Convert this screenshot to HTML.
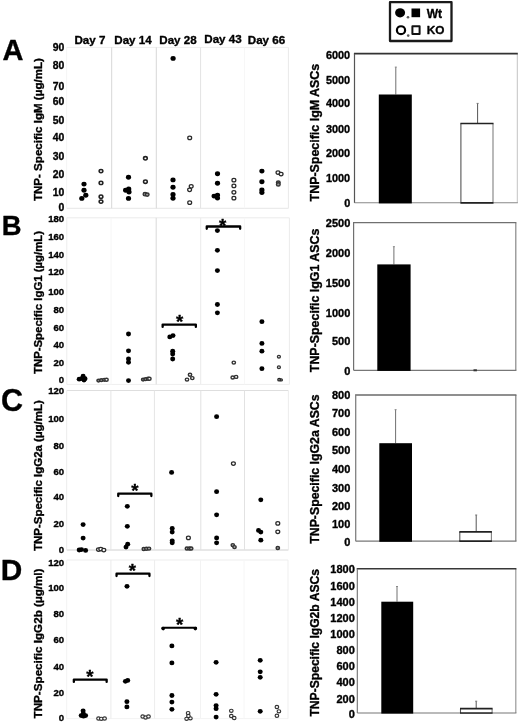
<!DOCTYPE html>
<html><head><meta charset="utf-8"><title>Figure</title>
<style>
html,body{margin:0;padding:0;background:#fff;}
body{width:520px;height:723px;overflow:hidden;font-family:"Liberation Sans",sans-serif;}
svg{display:block;filter:blur(0.45px);}
</style></head><body>
<svg width="520" height="723" viewBox="0 0 520 723" font-family="Liberation Sans, sans-serif" font-weight="bold" stroke-linejoin="round" fill="#000">
<rect width="520" height="723" fill="#fff"/>
<text x="2.6" y="59.9" font-size="29" text-anchor="start" stroke="#000" stroke-width="0.35" >A</text>
<text x="1.7" y="234.7" font-size="27.4" text-anchor="start" stroke="#000" stroke-width="0.35" >B</text>
<text x="1.0" y="410.5" font-size="30.5" text-anchor="start" stroke="#000" stroke-width="0.35" >C</text>
<text x="0.8" y="580.1" font-size="29.8" text-anchor="start" stroke="#000" stroke-width="0.35" >D</text>
<line x1="66.6" y1="47.4" x2="288.4" y2="47.4" stroke="#efefef" stroke-width="1"/>
<line x1="66.6" y1="208.3" x2="288.4" y2="208.3" stroke="#e6e6e6" stroke-width="1"/>
<line x1="66.6" y1="47.4" x2="66.6" y2="208.3" stroke="#f5f5f5" stroke-width="1"/>
<line x1="111.7" y1="47.4" x2="111.7" y2="208.3" stroke="#d7d7d7" stroke-width="1"/>
<line x1="156.3" y1="47.4" x2="156.3" y2="208.3" stroke="#d7d7d7" stroke-width="1"/>
<line x1="200.6" y1="47.4" x2="200.6" y2="208.3" stroke="#e3e3e3" stroke-width="1"/>
<line x1="244.4" y1="47.4" x2="244.4" y2="208.3" stroke="#f7f7f7" stroke-width="1"/>
<line x1="288.4" y1="47.4" x2="288.4" y2="208.3" stroke="#e9e9e9" stroke-width="1"/>
<line x1="66.8" y1="217.8" x2="289.4" y2="217.8" stroke="#ebebeb" stroke-width="1"/>
<line x1="66.8" y1="384.4" x2="289.4" y2="384.4" stroke="#efefef" stroke-width="1"/>
<line x1="66.8" y1="217.8" x2="66.8" y2="384.4" stroke="#ededed" stroke-width="1"/>
<line x1="111" y1="217.8" x2="111" y2="384.4" stroke="#f6f6f6" stroke-width="1"/>
<line x1="156.2" y1="217.8" x2="156.2" y2="384.4" stroke="#d9d9d9" stroke-width="1"/>
<line x1="200.7" y1="217.8" x2="200.7" y2="384.4" stroke="#ebebeb" stroke-width="1"/>
<line x1="244.6" y1="217.8" x2="244.6" y2="384.4" stroke="#f7f7f7" stroke-width="1"/>
<line x1="289.4" y1="217.8" x2="289.4" y2="384.4" stroke="#ebebeb" stroke-width="1"/>
<line x1="66.7" y1="390.5" x2="288.4" y2="390.5" stroke="#dedede" stroke-width="1"/>
<line x1="66.7" y1="550" x2="288.4" y2="550" stroke="#d0d0d0" stroke-width="1"/>
<line x1="66.7" y1="390.5" x2="66.7" y2="550" stroke="#ececec" stroke-width="1"/>
<line x1="110.9" y1="390.5" x2="110.9" y2="550" stroke="#e5e5e5" stroke-width="1"/>
<line x1="154.4" y1="390.5" x2="154.4" y2="550" stroke="#e5e5e5" stroke-width="1"/>
<line x1="200.8" y1="390.5" x2="200.8" y2="550" stroke="#e2e2e2" stroke-width="1"/>
<line x1="244.5" y1="390.5" x2="244.5" y2="550" stroke="#e2e2e2" stroke-width="1"/>
<line x1="288.4" y1="390.5" x2="288.4" y2="550" stroke="#ececec" stroke-width="1"/>
<line x1="66.7" y1="560" x2="288" y2="560" stroke="#ededed" stroke-width="1"/>
<line x1="66.7" y1="718.6" x2="288" y2="718.6" stroke="#f3f3f3" stroke-width="1"/>
<line x1="66.7" y1="560" x2="66.7" y2="718.6" stroke="#f3f3f3" stroke-width="1"/>
<line x1="110.9" y1="560" x2="110.9" y2="718.6" stroke="#ebebeb" stroke-width="1"/>
<line x1="154.6" y1="560" x2="154.6" y2="718.6" stroke="#ededed" stroke-width="1"/>
<line x1="200.5" y1="560" x2="200.5" y2="718.6" stroke="#f3f3f3" stroke-width="1"/>
<line x1="244" y1="560" x2="244" y2="718.6" stroke="#f6f6f6" stroke-width="1"/>
<line x1="288" y1="560" x2="288" y2="718.6" stroke="#efefef" stroke-width="1"/>
<text x="74.5" y="43.8" font-size="11.6" text-anchor="start" stroke="#000" stroke-width="0.35" >Day 7</text>
<text x="114.3" y="43.8" font-size="11.6" text-anchor="start" stroke="#000" stroke-width="0.35" >Day 14</text>
<text x="159.3" y="43.8" font-size="11.6" text-anchor="start" stroke="#000" stroke-width="0.35" >Day 28</text>
<text x="204.3" y="42.6" font-size="11.6" text-anchor="start" stroke="#000" stroke-width="0.35" >Day 43</text>
<text x="247.8" y="44.3" font-size="11.6" text-anchor="start" stroke="#000" stroke-width="0.35" >Day 66</text>
<text x="64.2" y="51.344" font-size="10.4" text-anchor="end" stroke="#000" stroke-width="0.35" >90</text>
<text x="64.2" y="68.944" font-size="10.4" text-anchor="end" stroke="#000" stroke-width="0.35" >80</text>
<text x="64.2" y="89.744" font-size="10.4" text-anchor="end" stroke="#000" stroke-width="0.35" >70</text>
<text x="64.2" y="105.244" font-size="10.4" text-anchor="end" stroke="#000" stroke-width="0.35" >60</text>
<text x="64.2" y="123.944" font-size="10.4" text-anchor="end" stroke="#000" stroke-width="0.35" >50</text>
<text x="64.2" y="140.744" font-size="10.4" text-anchor="end" stroke="#000" stroke-width="0.35" >40</text>
<text x="64.2" y="159.544" font-size="10.4" text-anchor="end" stroke="#000" stroke-width="0.35" >30</text>
<text x="64.2" y="177.544" font-size="10.4" text-anchor="end" stroke="#000" stroke-width="0.35" >20</text>
<text x="64.2" y="195.544" font-size="10.4" text-anchor="end" stroke="#000" stroke-width="0.35" >10</text>
<text x="64.2" y="211.344" font-size="10.4" text-anchor="end" stroke="#000" stroke-width="0.35" >0</text>
<text x="64.2" y="222.356" font-size="9.6" text-anchor="end" stroke="#000" stroke-width="0.35" >180</text>
<text x="64.2" y="239.856" font-size="9.6" text-anchor="end" stroke="#000" stroke-width="0.35" >160</text>
<text x="64.2" y="257.656" font-size="9.6" text-anchor="end" stroke="#000" stroke-width="0.35" >140</text>
<text x="64.2" y="275.456" font-size="9.6" text-anchor="end" stroke="#000" stroke-width="0.35" >120</text>
<text x="64.2" y="295.25600000000003" font-size="9.6" text-anchor="end" stroke="#000" stroke-width="0.35" >100</text>
<text x="64.2" y="313.05600000000004" font-size="9.6" text-anchor="end" stroke="#000" stroke-width="0.35" >80</text>
<text x="64.2" y="330.656" font-size="9.6" text-anchor="end" stroke="#000" stroke-width="0.35" >60</text>
<text x="64.2" y="348.456" font-size="9.6" text-anchor="end" stroke="#000" stroke-width="0.35" >40</text>
<text x="64.2" y="365.956" font-size="9.6" text-anchor="end" stroke="#000" stroke-width="0.35" >20</text>
<text x="64.2" y="383.156" font-size="9.6" text-anchor="end" stroke="#000" stroke-width="0.35" >0</text>
<text x="64.2" y="393.55600000000004" font-size="9.6" text-anchor="end" stroke="#000" stroke-width="0.35" >120</text>
<text x="64.2" y="422.456" font-size="9.6" text-anchor="end" stroke="#000" stroke-width="0.35" >100</text>
<text x="64.2" y="448.656" font-size="9.6" text-anchor="end" stroke="#000" stroke-width="0.35" >80</text>
<text x="64.2" y="474.856" font-size="9.6" text-anchor="end" stroke="#000" stroke-width="0.35" >60</text>
<text x="64.2" y="500.456" font-size="9.6" text-anchor="end" stroke="#000" stroke-width="0.35" >40</text>
<text x="64.2" y="527.456" font-size="9.6" text-anchor="end" stroke="#000" stroke-width="0.35" >20</text>
<text x="64.2" y="553.256" font-size="9.6" text-anchor="end" stroke="#000" stroke-width="0.35" >0</text>
<text x="64.2" y="565.756" font-size="9.6" text-anchor="end" stroke="#000" stroke-width="0.35" >120</text>
<text x="64.2" y="591.256" font-size="9.6" text-anchor="end" stroke="#000" stroke-width="0.35" >100</text>
<text x="64.2" y="617.1560000000001" font-size="9.6" text-anchor="end" stroke="#000" stroke-width="0.35" >80</text>
<text x="64.2" y="643.256" font-size="9.6" text-anchor="end" stroke="#000" stroke-width="0.35" >60</text>
<text x="64.2" y="669.756" font-size="9.6" text-anchor="end" stroke="#000" stroke-width="0.35" >40</text>
<text x="64.2" y="695.6560000000001" font-size="9.6" text-anchor="end" stroke="#000" stroke-width="0.35" >20</text>
<text x="64.2" y="721.456" font-size="9.6" text-anchor="end" stroke="#000" stroke-width="0.35" >0</text>
<text transform="translate(42.4,129.6) rotate(-90)" font-size="11.57" text-anchor="middle" stroke="#000" stroke-width="0.35" textLength="143" lengthAdjust="spacingAndGlyphs">TNP- Specific IgM (µg/mL)</text>
<text transform="translate(42.4,302.5) rotate(-90)" font-size="11.37" text-anchor="middle" stroke="#000" stroke-width="0.35" textLength="143" lengthAdjust="spacingAndGlyphs">TNP-Specific IgG1 (µg/mL)</text>
<text transform="translate(42.4,475.6) rotate(-90)" font-size="11.48" text-anchor="middle" stroke="#000" stroke-width="0.35" textLength="150.8" lengthAdjust="spacingAndGlyphs">TNP-Specific IgG2a (µg/mL)</text>
<text transform="translate(42.1,643.5) rotate(-90)" font-size="11.67" text-anchor="middle" stroke="#000" stroke-width="0.35" textLength="150" lengthAdjust="spacingAndGlyphs">TNP-Specific IgG2b (µg/ml)</text>
<ellipse cx="84" cy="184.1" rx="2.6" ry="2.45" fill="#000"/>
<ellipse cx="84" cy="190.3" rx="2.6" ry="2.45" fill="#000"/>
<ellipse cx="85.8" cy="195.3" rx="2.6" ry="2.45" fill="#000"/>
<ellipse cx="81.8" cy="198.4" rx="2.6" ry="2.45" fill="#000"/>
<ellipse cx="128.5" cy="177.3" rx="2.6" ry="2.45" fill="#000"/>
<ellipse cx="125.6" cy="190.3" rx="2.6" ry="2.45" fill="#000"/>
<ellipse cx="128.7" cy="188.9" rx="2.6" ry="2.45" fill="#000"/>
<ellipse cx="129" cy="192" rx="2.6" ry="2.45" fill="#000"/>
<ellipse cx="128.5" cy="198.4" rx="2.6" ry="2.45" fill="#000"/>
<ellipse cx="173.1" cy="58.4" rx="2.6" ry="2.45" fill="#000"/>
<ellipse cx="173" cy="179.9" rx="2.6" ry="2.45" fill="#000"/>
<ellipse cx="173" cy="187.3" rx="2.6" ry="2.45" fill="#000"/>
<ellipse cx="173" cy="194.4" rx="2.6" ry="2.45" fill="#000"/>
<ellipse cx="173" cy="198.2" rx="2.6" ry="2.45" fill="#000"/>
<ellipse cx="217.5" cy="173.7" rx="2.6" ry="2.45" fill="#000"/>
<ellipse cx="217.5" cy="183.3" rx="2.6" ry="2.45" fill="#000"/>
<ellipse cx="214.1" cy="196.1" rx="2.6" ry="2.45" fill="#000"/>
<ellipse cx="217.5" cy="195.1" rx="2.6" ry="2.45" fill="#000"/>
<ellipse cx="217.5" cy="198.1" rx="2.6" ry="2.45" fill="#000"/>
<ellipse cx="261.9" cy="171.1" rx="2.6" ry="2.45" fill="#000"/>
<ellipse cx="261.9" cy="181.8" rx="2.6" ry="2.45" fill="#000"/>
<ellipse cx="261.9" cy="189.9" rx="2.6" ry="2.45" fill="#000"/>
<ellipse cx="261.9" cy="192.6" rx="2.6" ry="2.45" fill="#000"/>
<ellipse cx="101" cy="171.1" rx="1.8499999999999999" ry="1.65" fill="#fff" stroke="#222" stroke-width="1.6"/>
<ellipse cx="101" cy="182.9" rx="1.8499999999999999" ry="1.65" fill="#fff" stroke="#222" stroke-width="1.6"/>
<ellipse cx="101" cy="196.7" rx="1.8499999999999999" ry="1.65" fill="#fff" stroke="#222" stroke-width="1.6"/>
<ellipse cx="101" cy="201.6" rx="1.8499999999999999" ry="1.65" fill="#fff" stroke="#222" stroke-width="1.6"/>
<ellipse cx="145.4" cy="158.3" rx="1.8499999999999999" ry="1.65" fill="#fff" stroke="#222" stroke-width="1.6"/>
<ellipse cx="145.4" cy="181.7" rx="1.8499999999999999" ry="1.65" fill="#fff" stroke="#222" stroke-width="1.6"/>
<ellipse cx="189.7" cy="137.9" rx="1.95" ry="1.75" fill="#fff" stroke="#2a2a2a" stroke-width="1.25"/>
<ellipse cx="191.2" cy="186.3" rx="1.95" ry="1.75" fill="#fff" stroke="#2a2a2a" stroke-width="1.25"/>
<ellipse cx="189.6" cy="189.8" rx="1.95" ry="1.75" fill="#fff" stroke="#2a2a2a" stroke-width="1.25"/>
<ellipse cx="189.7" cy="202.7" rx="1.95" ry="1.75" fill="#fff" stroke="#2a2a2a" stroke-width="1.25"/>
<ellipse cx="233.9" cy="180.2" rx="1.95" ry="1.75" fill="#fff" stroke="#2a2a2a" stroke-width="1.25"/>
<ellipse cx="233.9" cy="185.9" rx="1.95" ry="1.75" fill="#fff" stroke="#2a2a2a" stroke-width="1.25"/>
<ellipse cx="233.9" cy="192.3" rx="1.95" ry="1.75" fill="#fff" stroke="#2a2a2a" stroke-width="1.25"/>
<ellipse cx="233.9" cy="198.2" rx="1.95" ry="1.75" fill="#fff" stroke="#2a2a2a" stroke-width="1.25"/>
<ellipse cx="278" cy="172.6" rx="1.95" ry="1.75" fill="#fff" stroke="#2a2a2a" stroke-width="1.25"/>
<ellipse cx="281.1" cy="174" rx="1.95" ry="1.75" fill="#fff" stroke="#2a2a2a" stroke-width="1.25"/>
<ellipse cx="145" cy="194.2" rx="1.8499999999999999" ry="1.65" fill="#999" stroke="#333" stroke-width="1.4"/>
<ellipse cx="147.2" cy="194.6" rx="1.8499999999999999" ry="1.65" fill="#999" stroke="#333" stroke-width="1.4"/>
<ellipse cx="278.3" cy="182.6" rx="1.8499999999999999" ry="1.65" fill="#999" stroke="#333" stroke-width="1.4"/>
<ellipse cx="278.3" cy="184.4" rx="1.8499999999999999" ry="1.65" fill="#999" stroke="#333" stroke-width="1.4"/>
<ellipse cx="79.2" cy="379.2" rx="2.5" ry="2.4" fill="#000"/>
<ellipse cx="82.1" cy="378.7" rx="2.5" ry="2.4" fill="#000"/>
<ellipse cx="85" cy="378.7" rx="2.5" ry="2.4" fill="#000"/>
<ellipse cx="83.1" cy="376.2" rx="2.5" ry="2.4" fill="#000"/>
<ellipse cx="84" cy="380" rx="2.5" ry="2.4" fill="#000"/>
<ellipse cx="128.5" cy="334" rx="2.5" ry="2.4" fill="#000"/>
<ellipse cx="128.5" cy="350.8" rx="2.5" ry="2.4" fill="#000"/>
<ellipse cx="128.5" cy="359" rx="2.5" ry="2.4" fill="#000"/>
<ellipse cx="128.5" cy="362.3" rx="2.5" ry="2.4" fill="#000"/>
<ellipse cx="128.5" cy="380.6" rx="2.5" ry="2.4" fill="#000"/>
<ellipse cx="169.8" cy="336.9" rx="2.5" ry="2.4" fill="#000"/>
<ellipse cx="173" cy="335.6" rx="2.5" ry="2.4" fill="#000"/>
<ellipse cx="172.7" cy="351.2" rx="2.5" ry="2.4" fill="#000"/>
<ellipse cx="172.7" cy="354" rx="2.5" ry="2.4" fill="#000"/>
<ellipse cx="172.7" cy="359" rx="2.5" ry="2.4" fill="#000"/>
<ellipse cx="217.4" cy="230.6" rx="2.5" ry="2.4" fill="#000"/>
<ellipse cx="217.4" cy="250.3" rx="2.5" ry="2.4" fill="#000"/>
<ellipse cx="217.4" cy="270.6" rx="2.5" ry="2.4" fill="#000"/>
<ellipse cx="217.4" cy="304.5" rx="2.5" ry="2.4" fill="#000"/>
<ellipse cx="217.4" cy="312.8" rx="2.5" ry="2.4" fill="#000"/>
<ellipse cx="261.9" cy="321.7" rx="2.5" ry="2.4" fill="#000"/>
<ellipse cx="261.9" cy="343.4" rx="2.5" ry="2.4" fill="#000"/>
<ellipse cx="261.9" cy="351.2" rx="2.5" ry="2.4" fill="#000"/>
<ellipse cx="261.9" cy="368.7" rx="2.5" ry="2.4" fill="#000"/>
<ellipse cx="98.5" cy="380.6" rx="1.5999999999999999" ry="1.4" fill="#8a8a8a" stroke="#333" stroke-width="1.4"/>
<ellipse cx="101.3" cy="380.2" rx="1.5999999999999999" ry="1.4" fill="#8a8a8a" stroke="#333" stroke-width="1.4"/>
<ellipse cx="104.2" cy="379.8" rx="1.5999999999999999" ry="1.4" fill="#8a8a8a" stroke="#333" stroke-width="1.4"/>
<ellipse cx="143.1" cy="379.6" rx="1.5999999999999999" ry="1.4" fill="#8a8a8a" stroke="#333" stroke-width="1.4"/>
<ellipse cx="145.6" cy="379.2" rx="1.5999999999999999" ry="1.4" fill="#8a8a8a" stroke="#333" stroke-width="1.4"/>
<ellipse cx="106.5" cy="379.8" rx="1.7" ry="1.5" fill="#fff" stroke="#333" stroke-width="1.4"/>
<ellipse cx="148.1" cy="378.8" rx="1.7" ry="1.5" fill="#fff" stroke="#333" stroke-width="1.4"/>
<ellipse cx="149.4" cy="378.7" rx="1.7" ry="1.5" fill="#fff" stroke="#333" stroke-width="1.4"/>
<ellipse cx="187" cy="379.6" rx="1.7" ry="1.5" fill="#fff" stroke="#333" stroke-width="1.4"/>
<ellipse cx="190" cy="374.8" rx="1.7" ry="1.5" fill="#fff" stroke="#333" stroke-width="1.4"/>
<ellipse cx="192.3" cy="378.1" rx="1.7" ry="1.5" fill="#fff" stroke="#333" stroke-width="1.4"/>
<ellipse cx="233.8" cy="362.6" rx="1.7" ry="1.5" fill="#fff" stroke="#333" stroke-width="1.4"/>
<ellipse cx="232.7" cy="377.5" rx="1.7" ry="1.5" fill="#fff" stroke="#333" stroke-width="1.4"/>
<ellipse cx="236.1" cy="376.9" rx="1.7" ry="1.5" fill="#fff" stroke="#333" stroke-width="1.4"/>
<ellipse cx="278.9" cy="356.7" rx="1.5" ry="1.3" fill="#fff" stroke="#333" stroke-width="1.3"/>
<ellipse cx="278.9" cy="367.2" rx="1.5" ry="1.3" fill="#fff" stroke="#333" stroke-width="1.3"/>
<ellipse cx="279.2" cy="379.7" rx="1.4" ry="1.2" fill="#fff" stroke="#222" stroke-width="1.3"/>
<ellipse cx="281.2" cy="379.9" rx="1.2" ry="1.0" fill="#fff" stroke="#222" stroke-width="1.2"/>
<ellipse cx="83.1" cy="524.6" rx="2.5" ry="2.4" fill="#000"/>
<ellipse cx="83.1" cy="538.1" rx="2.5" ry="2.4" fill="#000"/>
<ellipse cx="79.2" cy="550" rx="2.5" ry="2.4" fill="#000"/>
<ellipse cx="81.5" cy="549.6" rx="2.5" ry="2.4" fill="#000"/>
<ellipse cx="85.6" cy="550.4" rx="2.5" ry="2.4" fill="#000"/>
<ellipse cx="127.3" cy="506.3" rx="2.5" ry="2.4" fill="#000"/>
<ellipse cx="127.3" cy="526.3" rx="2.5" ry="2.4" fill="#000"/>
<ellipse cx="127.7" cy="544.2" rx="2.5" ry="2.4" fill="#000"/>
<ellipse cx="126" cy="547.1" rx="2.5" ry="2.4" fill="#000"/>
<ellipse cx="171.6" cy="472.4" rx="2.5" ry="2.4" fill="#000"/>
<ellipse cx="172.2" cy="528.4" rx="2.5" ry="2.4" fill="#000"/>
<ellipse cx="172.2" cy="532.1" rx="2.5" ry="2.4" fill="#000"/>
<ellipse cx="172.2" cy="540.8" rx="2.5" ry="2.4" fill="#000"/>
<ellipse cx="172.2" cy="542.8" rx="2.5" ry="2.4" fill="#000"/>
<ellipse cx="216.6" cy="416.7" rx="2.5" ry="2.4" fill="#000"/>
<ellipse cx="216.6" cy="491.7" rx="2.5" ry="2.4" fill="#000"/>
<ellipse cx="216.6" cy="514.8" rx="2.5" ry="2.4" fill="#000"/>
<ellipse cx="216.6" cy="537.9" rx="2.5" ry="2.4" fill="#000"/>
<ellipse cx="216.6" cy="542.8" rx="2.5" ry="2.4" fill="#000"/>
<ellipse cx="260.8" cy="499.8" rx="2.5" ry="2.4" fill="#000"/>
<ellipse cx="258.5" cy="530.4" rx="2.5" ry="2.4" fill="#000"/>
<ellipse cx="260.8" cy="532.1" rx="2.5" ry="2.4" fill="#000"/>
<ellipse cx="260.8" cy="540.2" rx="2.5" ry="2.4" fill="#000"/>
<ellipse cx="98.5" cy="549.6" rx="1.95" ry="1.75" fill="#fff" stroke="#2a2a2a" stroke-width="1.25"/>
<ellipse cx="100.8" cy="549" rx="1.95" ry="1.75" fill="#fff" stroke="#2a2a2a" stroke-width="1.25"/>
<ellipse cx="103.8" cy="550" rx="1.95" ry="1.75" fill="#fff" stroke="#2a2a2a" stroke-width="1.25"/>
<ellipse cx="188.4" cy="537.9" rx="1.95" ry="1.75" fill="#fff" stroke="#2a2a2a" stroke-width="1.25"/>
<ellipse cx="233.4" cy="463.5" rx="1.95" ry="1.75" fill="#fff" stroke="#2a2a2a" stroke-width="1.25"/>
<ellipse cx="277.8" cy="523.4" rx="1.95" ry="1.75" fill="#fff" stroke="#2a2a2a" stroke-width="1.25"/>
<ellipse cx="277.8" cy="531.8" rx="1.95" ry="1.75" fill="#fff" stroke="#2a2a2a" stroke-width="1.25"/>
<ellipse cx="143.8" cy="549" rx="1.7" ry="1.5" fill="#aaa" stroke="#333" stroke-width="1.4"/>
<ellipse cx="146.4" cy="548.8" rx="1.7" ry="1.5" fill="#aaa" stroke="#333" stroke-width="1.4"/>
<ellipse cx="149" cy="548.6" rx="1.7" ry="1.5" fill="#aaa" stroke="#333" stroke-width="1.4"/>
<ellipse cx="186.9" cy="548.5" rx="1.7" ry="1.5" fill="#aaa" stroke="#333" stroke-width="1.4"/>
<ellipse cx="189.5" cy="548.5" rx="1.7" ry="1.5" fill="#aaa" stroke="#333" stroke-width="1.4"/>
<ellipse cx="191.2" cy="548.5" rx="1.7" ry="1.5" fill="#aaa" stroke="#333" stroke-width="1.4"/>
<ellipse cx="232.8" cy="545.1" rx="1.7" ry="1.5" fill="#aaa" stroke="#333" stroke-width="1.4"/>
<ellipse cx="234.5" cy="547.1" rx="1.7" ry="1.5" fill="#aaa" stroke="#333" stroke-width="1.4"/>
<ellipse cx="277.8" cy="548" rx="1.7" ry="1.5" fill="#aaa" stroke="#333" stroke-width="1.4"/>
<ellipse cx="83.1" cy="710.8" rx="2.5" ry="2.4" fill="#000"/>
<ellipse cx="81.2" cy="715.6" rx="2.5" ry="2.4" fill="#000"/>
<ellipse cx="83.5" cy="716.2" rx="2.5" ry="2.4" fill="#000"/>
<ellipse cx="85.6" cy="715.6" rx="2.5" ry="2.4" fill="#000"/>
<ellipse cx="83.3" cy="713.5" rx="2.5" ry="2.4" fill="#000"/>
<ellipse cx="125.4" cy="681.3" rx="2.5" ry="2.4" fill="#000"/>
<ellipse cx="127.7" cy="680.4" rx="2.5" ry="2.4" fill="#000"/>
<ellipse cx="126.9" cy="701.7" rx="2.5" ry="2.4" fill="#000"/>
<ellipse cx="126.9" cy="706.9" rx="2.5" ry="2.4" fill="#000"/>
<ellipse cx="127" cy="586.3" rx="2.5" ry="2.4" fill="#000"/>
<ellipse cx="171.9" cy="645.9" rx="2.5" ry="2.4" fill="#000"/>
<ellipse cx="171.9" cy="662.9" rx="2.5" ry="2.4" fill="#000"/>
<ellipse cx="171.9" cy="695.5" rx="2.5" ry="2.4" fill="#000"/>
<ellipse cx="171.9" cy="702.1" rx="2.5" ry="2.4" fill="#000"/>
<ellipse cx="171.9" cy="709.3" rx="2.5" ry="2.4" fill="#000"/>
<ellipse cx="216.1" cy="662.3" rx="2.5" ry="2.4" fill="#000"/>
<ellipse cx="216.1" cy="694.3" rx="2.5" ry="2.4" fill="#000"/>
<ellipse cx="216.1" cy="705.6" rx="2.5" ry="2.4" fill="#000"/>
<ellipse cx="216.1" cy="708.7" rx="2.5" ry="2.4" fill="#000"/>
<ellipse cx="216.1" cy="717.1" rx="2.5" ry="2.4" fill="#000"/>
<ellipse cx="260.2" cy="660.3" rx="2.5" ry="2.4" fill="#000"/>
<ellipse cx="260.2" cy="671.8" rx="2.5" ry="2.4" fill="#000"/>
<ellipse cx="260.2" cy="677.3" rx="2.5" ry="2.4" fill="#000"/>
<ellipse cx="260.2" cy="711.3" rx="2.5" ry="2.4" fill="#000"/>
<ellipse cx="98.5" cy="718.5" rx="1.8" ry="1.6" fill="#fff" stroke="#333" stroke-width="1.15"/>
<ellipse cx="101.3" cy="718.8" rx="1.8" ry="1.6" fill="#fff" stroke="#333" stroke-width="1.15"/>
<ellipse cx="104.6" cy="718.5" rx="1.8" ry="1.6" fill="#fff" stroke="#333" stroke-width="1.15"/>
<ellipse cx="142.7" cy="716.5" rx="1.8" ry="1.6" fill="#fff" stroke="#333" stroke-width="1.15"/>
<ellipse cx="145.6" cy="717.5" rx="1.8" ry="1.6" fill="#fff" stroke="#333" stroke-width="1.15"/>
<ellipse cx="148.5" cy="716.5" rx="1.8" ry="1.6" fill="#fff" stroke="#333" stroke-width="1.15"/>
<ellipse cx="188.1" cy="713.1" rx="1.8" ry="1.6" fill="#fff" stroke="#333" stroke-width="1.15"/>
<ellipse cx="186.6" cy="718.8" rx="1.8" ry="1.6" fill="#fff" stroke="#333" stroke-width="1.15"/>
<ellipse cx="190.4" cy="718.3" rx="1.8" ry="1.6" fill="#fff" stroke="#333" stroke-width="1.15"/>
<ellipse cx="188.4" cy="716" rx="1.8" ry="1.6" fill="#fff" stroke="#333" stroke-width="1.15"/>
<ellipse cx="231.3" cy="710.8" rx="1.8" ry="1.6" fill="#fff" stroke="#333" stroke-width="1.15"/>
<ellipse cx="231.3" cy="716" rx="1.8" ry="1.6" fill="#fff" stroke="#333" stroke-width="1.15"/>
<ellipse cx="234.2" cy="718" rx="1.8" ry="1.6" fill="#fff" stroke="#333" stroke-width="1.15"/>
<ellipse cx="276.9" cy="707" rx="1.8" ry="1.6" fill="#fff" stroke="#333" stroke-width="1.15"/>
<ellipse cx="278.9" cy="711.3" rx="1.8" ry="1.6" fill="#fff" stroke="#333" stroke-width="1.15"/>
<ellipse cx="276.9" cy="715.7" rx="1.8" ry="1.6" fill="#fff" stroke="#333" stroke-width="1.15"/>
<path d="M162.65,326.90000000000003 V324.6 H195.85 V326.90000000000003" fill="none" stroke="#000" stroke-width="2.3" stroke-linecap="round" stroke-linejoin="round"/>
<text x="179.5" y="327.76" font-size="18.6" text-anchor="middle" stroke="#000" stroke-width="0.35" >*</text>
<path d="M206.75,228.8 V226.5 H240.15 V228.8" fill="none" stroke="#000" stroke-width="2.3" stroke-linecap="round" stroke-linejoin="round"/>
<text x="222.7" y="231.87" font-size="18.6" text-anchor="middle" stroke="#000" stroke-width="0.35" >*</text>
<path d="M118.25,496.0 V493.7 H151.35 V496.0" fill="none" stroke="#000" stroke-width="2.3" stroke-linecap="round" stroke-linejoin="round"/>
<text x="134.8" y="496.87" font-size="18.6" text-anchor="middle" stroke="#000" stroke-width="0.35" >*</text>
<path d="M73.85,681.9 V679.6 H106.65 V681.9" fill="none" stroke="#000" stroke-width="2.3" stroke-linecap="round" stroke-linejoin="round"/>
<text x="89.9" y="682.76" font-size="18.6" text-anchor="middle" stroke="#000" stroke-width="0.35" >*</text>
<path d="M116.55,576.0 V573.7 H149.45 V576.0" fill="none" stroke="#000" stroke-width="2.3" stroke-linecap="round" stroke-linejoin="round"/>
<text x="132.3" y="576.76" font-size="18.6" text-anchor="middle" stroke="#000" stroke-width="0.35" >*</text>
<path d="M162.50,628.6 V627.7 H196.00 V628.6" fill="none" stroke="#000" stroke-width="2.0" stroke-linecap="round" stroke-linejoin="round"/>
<text x="179.5" y="630.76" font-size="18.6" text-anchor="middle" stroke="#000" stroke-width="0.35" >*</text>
<circle cx="163.2" cy="628.6" r="1.8"/><circle cx="195.3" cy="628.6" r="1.8"/>
<rect x="390" y="2.2" width="61.5" height="38.8" fill="#fff" stroke="#1a1a1a" stroke-width="2.3"/>
<ellipse cx="400.1" cy="12.8" rx="5" ry="4.6" fill="#000"/>
<rect x="411.5" y="8.5" width="8.6" height="8.7" fill="#000"/>
<circle cx="408" cy="17.3" r="1.3" fill="#5a5a5a"/>
<text x="426.7" y="17.7" font-size="12" text-anchor="start" stroke="#000" stroke-width="0.35" >Wt</text>
<ellipse cx="401" cy="30.2" rx="4.1" ry="3.95" fill="#fff" stroke="#000" stroke-width="2.2"/>
<rect x="412.4" y="26.2" width="7.2" height="7.7" fill="#fff" stroke="#111" stroke-width="2"/>
<circle cx="408.2" cy="35.6" r="1.3" fill="#5a5a5a"/>
<text x="426.7" y="34.3" font-size="11.8" text-anchor="start" stroke="#000" stroke-width="0.35" >KO</text>
<line x1="517.3" y1="53.7" x2="517.3" y2="202.8" stroke="#c4c4c4" stroke-width="1"/>
<line x1="354.5" y1="202.8" x2="517.8" y2="202.8" stroke="#888" stroke-width="1.1"/>
<line x1="353.9" y1="53.7" x2="517.8" y2="53.7" stroke="#333" stroke-width="1.7"/>
<line x1="354.5" y1="53.7" x2="354.5" y2="202.8" stroke="#555" stroke-width="1.2"/>
<text x="350.2" y="58.5" font-size="10.9" text-anchor="end" stroke="#000" stroke-width="0.35" >6000</text>
<text x="350.2" y="83.9" font-size="10.9" text-anchor="end" stroke="#000" stroke-width="0.35" >5000</text>
<text x="350.2" y="106.8" font-size="10.9" text-anchor="end" stroke="#000" stroke-width="0.35" >4000</text>
<text x="350.2" y="133.1" font-size="10.9" text-anchor="end" stroke="#000" stroke-width="0.35" >3000</text>
<text x="350.2" y="157.4" font-size="10.9" text-anchor="end" stroke="#000" stroke-width="0.35" >2000</text>
<text x="350.2" y="182.0" font-size="10.9" text-anchor="end" stroke="#000" stroke-width="0.35" >1000</text>
<text x="350.2" y="206.9" font-size="10.9" text-anchor="end" stroke="#000" stroke-width="0.35" >0</text>
<text transform="translate(319.2,132.6) rotate(-90)" font-size="12.43" text-anchor="middle" stroke="#000" stroke-width="0.35" textLength="137.7" lengthAdjust="spacingAndGlyphs">TNP-Specific IgM ASCs</text>
<line x1="395.8" y1="67.1" x2="395.8" y2="94.5" stroke="#707070" stroke-width="1"/>
<line x1="394.8" y1="67.1" x2="396.8" y2="67.1" stroke="#888" stroke-width="1"/>
<rect x="378.8" y="94.5" width="33.0" height="108.9" fill="#000"/>
<line x1="477.6" y1="103.4" x2="477.6" y2="123.5" stroke="#555" stroke-width="1"/>
<line x1="476.6" y1="103.4" x2="478.6" y2="103.4" stroke="#777" stroke-width="1"/>
<rect x="460.4" y="123.5" width="33.1" height="79.3" fill="#fff"/>
<line x1="460.9" y1="123.5" x2="460.9" y2="202.8" stroke="#555" stroke-width="1.1"/>
<line x1="493.0" y1="123.5" x2="493.0" y2="202.8" stroke="#808080" stroke-width="1.1"/>
<line x1="460.4" y1="123.5" x2="493.5" y2="123.5" stroke="#222" stroke-width="1.7"/>
<line x1="460.4" y1="202.8" x2="493.5" y2="202.8" stroke="#222" stroke-width="1.7"/>
<line x1="515.8" y1="222.7" x2="515.8" y2="370.3" stroke="#888" stroke-width="1.2"/>
<line x1="353.6" y1="370.3" x2="516.4" y2="370.3" stroke="#777" stroke-width="1.2"/>
<line x1="353.0" y1="222.7" x2="516.4" y2="222.7" stroke="#707070" stroke-width="1.3"/>
<line x1="353.6" y1="222.7" x2="353.6" y2="370.3" stroke="#707070" stroke-width="1.2"/>
<text x="350.3" y="227.24" font-size="11" text-anchor="end" stroke="#000" stroke-width="0.35" >2500</text>
<text x="350.3" y="256.94" font-size="11" text-anchor="end" stroke="#000" stroke-width="0.35" >2000</text>
<text x="350.3" y="286.54" font-size="11" text-anchor="end" stroke="#000" stroke-width="0.35" >1500</text>
<text x="350.3" y="316.54" font-size="11" text-anchor="end" stroke="#000" stroke-width="0.35" >1000</text>
<text x="350.3" y="345.44" font-size="11" text-anchor="end" stroke="#000" stroke-width="0.35" >500</text>
<text x="350.3" y="374.94" font-size="11" text-anchor="end" stroke="#000" stroke-width="0.35" >0</text>
<text transform="translate(318.8,300.4) rotate(-90)" font-size="12.39" text-anchor="middle" stroke="#000" stroke-width="0.35" textLength="143.5" lengthAdjust="spacingAndGlyphs">TNP-Specific IgG1 ASCs</text>
<line x1="393.9" y1="246.7" x2="393.9" y2="264.4" stroke="#707070" stroke-width="1"/>
<line x1="392.9" y1="246.7" x2="394.9" y2="246.7" stroke="#888" stroke-width="1"/>
<rect x="377.3" y="264.4" width="33.3" height="106.5" fill="#000"/>
<rect x="473.5" y="369.3" width="3.4" height="2" fill="#333"/>
<line x1="515.8" y1="395" x2="515.8" y2="541.2" stroke="#888" stroke-width="1.3"/>
<line x1="355.7" y1="541.2" x2="516.4499999999999" y2="541.2" stroke="#777" stroke-width="1.2"/>
<line x1="355.09999999999997" y1="395" x2="516.4499999999999" y2="395" stroke="#6a6a6a" stroke-width="1.3"/>
<line x1="355.7" y1="395" x2="355.7" y2="541.2" stroke="#808080" stroke-width="1.3"/>
<text x="350.3" y="399.04" font-size="11" text-anchor="end" stroke="#000" stroke-width="0.35" >800</text>
<text x="350.3" y="417.34" font-size="11" text-anchor="end" stroke="#000" stroke-width="0.35" >700</text>
<text x="350.3" y="435.94" font-size="11" text-anchor="end" stroke="#000" stroke-width="0.35" >600</text>
<text x="350.3" y="453.54" font-size="11" text-anchor="end" stroke="#000" stroke-width="0.35" >500</text>
<text x="350.3" y="473.34" font-size="11" text-anchor="end" stroke="#000" stroke-width="0.35" >400</text>
<text x="350.3" y="491.94" font-size="11" text-anchor="end" stroke="#000" stroke-width="0.35" >300</text>
<text x="350.3" y="509.74" font-size="11" text-anchor="end" stroke="#000" stroke-width="0.35" >200</text>
<text x="350.3" y="528.04" font-size="11" text-anchor="end" stroke="#000" stroke-width="0.35" >100</text>
<text x="350.3" y="546.14" font-size="11" text-anchor="end" stroke="#000" stroke-width="0.35" >0</text>
<text transform="translate(319.3,469.1) rotate(-90)" font-size="12.31" text-anchor="middle" stroke="#000" stroke-width="0.35" textLength="149.4" lengthAdjust="spacingAndGlyphs">TNP-Specific IgG2a ASCs</text>
<line x1="395.6" y1="409.7" x2="395.6" y2="443.2" stroke="#707070" stroke-width="1"/>
<line x1="394.6" y1="409.7" x2="396.6" y2="409.7" stroke="#888" stroke-width="1"/>
<rect x="379.3" y="443.2" width="32.7" height="98.6" fill="#000"/>
<line x1="476.2" y1="515" x2="476.2" y2="531.9" stroke="#555" stroke-width="1"/>
<line x1="475.2" y1="515" x2="477.2" y2="515" stroke="#777" stroke-width="1"/>
<rect x="459.3" y="531.9" width="32.6" height="9.3" fill="#fff"/>
<line x1="459.8" y1="531.9" x2="459.8" y2="541.2" stroke="#555" stroke-width="1.1"/>
<line x1="491.4" y1="531.9" x2="491.4" y2="541.2" stroke="#808080" stroke-width="1.1"/>
<line x1="459.3" y1="531.9" x2="491.9" y2="531.9" stroke="#222" stroke-width="1.7"/>
<line x1="459.3" y1="541.2" x2="491.9" y2="541.2" stroke="#222" stroke-width="1.7"/>
<line x1="515.8" y1="568.7" x2="515.8" y2="713" stroke="#999" stroke-width="1.2"/>
<line x1="357.3" y1="713" x2="516.4" y2="713" stroke="#777" stroke-width="1.1"/>
<line x1="356.7" y1="568.7" x2="516.4" y2="568.7" stroke="#383838" stroke-width="1.5"/>
<line x1="357.3" y1="568.7" x2="357.3" y2="713" stroke="#707070" stroke-width="1.1"/>
<text x="354.8" y="573.14" font-size="11" text-anchor="end" stroke="#000" stroke-width="0.35" >1800</text>
<text x="354.8" y="589.54" font-size="11" text-anchor="end" stroke="#000" stroke-width="0.35" >1600</text>
<text x="354.8" y="605.74" font-size="11" text-anchor="end" stroke="#000" stroke-width="0.35" >1400</text>
<text x="354.8" y="621.74" font-size="11" text-anchor="end" stroke="#000" stroke-width="0.35" >1200</text>
<text x="354.8" y="637.54" font-size="11" text-anchor="end" stroke="#000" stroke-width="0.35" >1000</text>
<text x="354.8" y="654.14" font-size="11" text-anchor="end" stroke="#000" stroke-width="0.35" >800</text>
<text x="354.8" y="669.54" font-size="11" text-anchor="end" stroke="#000" stroke-width="0.35" >600</text>
<text x="354.8" y="685.54" font-size="11" text-anchor="end" stroke="#000" stroke-width="0.35" >400</text>
<text x="354.8" y="702.54" font-size="11" text-anchor="end" stroke="#000" stroke-width="0.35" >200</text>
<text x="354.8" y="718.14" font-size="11" text-anchor="end" stroke="#000" stroke-width="0.35" >0</text>
<text transform="translate(318.6,642.8) rotate(-90)" font-size="12.1" text-anchor="middle" stroke="#000" stroke-width="0.35" textLength="147.5" lengthAdjust="spacingAndGlyphs">TNP-Specific IgG2b ASCs</text>
<line x1="397" y1="586.5" x2="397" y2="601.7" stroke="#707070" stroke-width="1"/>
<line x1="396" y1="586.5" x2="398" y2="586.5" stroke="#888" stroke-width="1"/>
<rect x="381.3" y="601.7" width="31.9" height="111.9" fill="#000"/>
<line x1="476.2" y1="701.2" x2="476.2" y2="708.7" stroke="#555" stroke-width="1"/>
<line x1="475.2" y1="701.2" x2="477.2" y2="701.2" stroke="#777" stroke-width="1"/>
<rect x="460" y="708.7" width="32.6" height="4.3" fill="#fff"/>
<line x1="460.5" y1="708.7" x2="460.5" y2="713" stroke="#555" stroke-width="1.1"/>
<line x1="492.1" y1="708.7" x2="492.1" y2="713" stroke="#808080" stroke-width="1.1"/>
<line x1="460" y1="708.7" x2="492.6" y2="708.7" stroke="#222" stroke-width="1.7"/>
<line x1="460" y1="713" x2="492.6" y2="713" stroke="#222" stroke-width="1.7"/>
</svg>
</body></html>
